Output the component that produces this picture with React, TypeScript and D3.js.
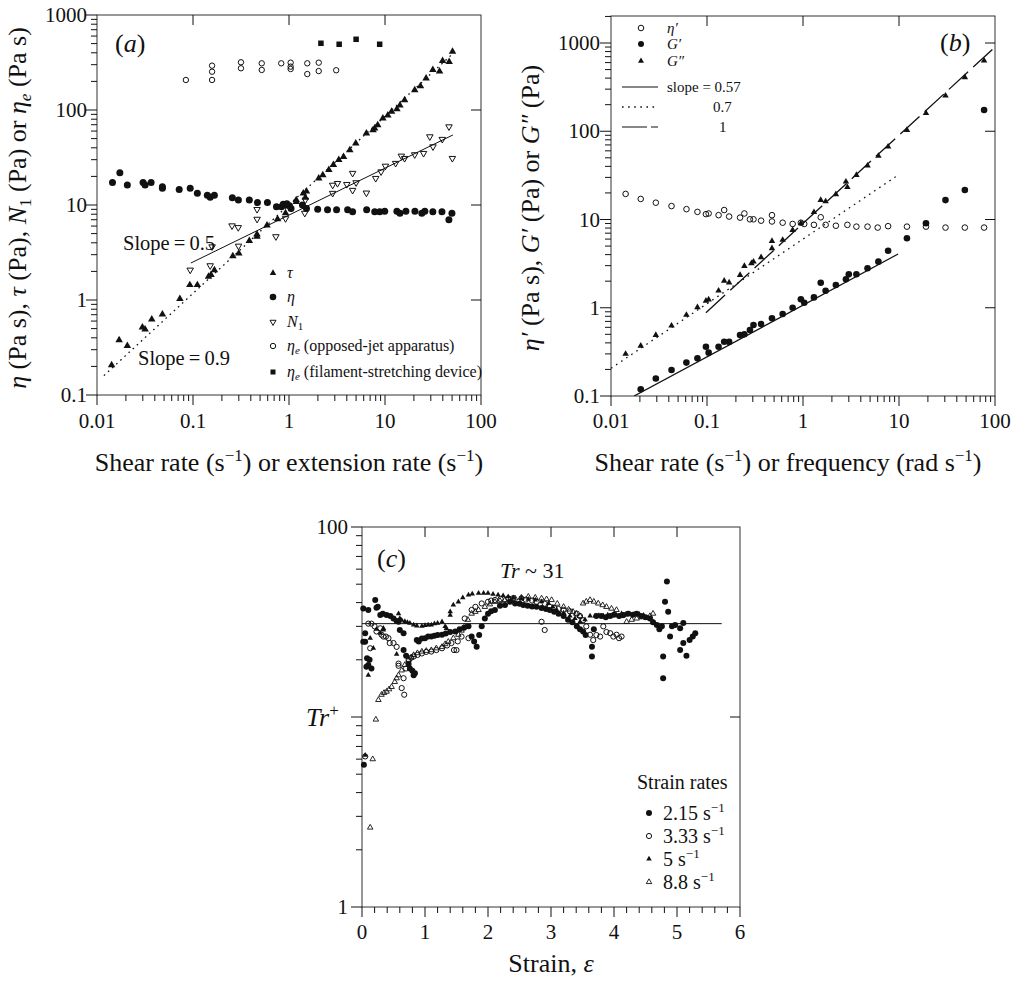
import React from "react";
import * as d3 from "d3";

const SERIF = "'Liberation Serif','Times New Roman','DejaVu Serif',serif";
const INK = "#111";

type P = [number, number];

// ---------------- Panel (a) data ----------------
const aTau: P[] = [
  [0.0142, 0.207], [0.017, 0.379], [0.0207, 0.33], [0.0297, 0.515], [0.0317, 0.49], [0.0372, 0.626],
  [0.048, 0.707], [0.073, 1.03], [0.0927, 1.44], [0.111, 1.44], [0.145, 1.76], [0.154, 1.84],
  [0.167, 2.07], [0.26, 2.9], [0.3, 3.1], [0.386, 4.2], [0.464, 4.64], [0.464, 4.9], [0.59, 6.1],
  [0.76, 7.1], [0.92, 8.2], [1.19, 10.8], [1.19, 11.3], [1.41, 13.3], [1.48, 12], [1.52, 13.9],
  [2.04, 19.1], [2.25, 20.7], [2.6, 23.4], [2.9, 26.4], [3.3, 29.8], [3.7, 32.2], [4.3, 37.9],
  [4.96, 44.7], [6.4, 56.9], [7.5, 61.5], [7.8, 64.3], [8.4, 69.5], [9.5, 81.8], [10.7, 88],
  [11.7, 96], [13.3, 102], [14.3, 112], [16, 127], [20.4, 162], [23.4, 179], [26.8, 216],
  [31.5, 265], [37, 256], [39.8, 330], [46.6, 322], [50.5, 411],
];
const aEta: P[] = [
  [0.0145, 17.2], [0.0173, 21.9], [0.0207, 16.2], [0.0302, 17.2], [0.0317, 16.2], [0.0366, 17.2],
  [0.048, 15.6], [0.048, 15], [0.0718, 14.6], [0.0935, 15], [0.111, 13.3], [0.141, 12.7],
  [0.151, 12.1], [0.167, 12.7], [0.257, 11.9], [0.297, 11.3], [0.386, 11.3], [0.469, 10.6],
  [0.596, 10.6], [0.74, 9.6], [0.835, 9.6], [0.87, 10.2], [0.918, 10], [0.95, 10.3], [1.01, 9.8],
  [1.05, 9.2], [1.38, 10], [1.52, 9.2], [1.99, 9.0], [2.52, 8.9], [3.13, 8.9], [4.08, 8.9],
  [4.6, 8.5], [6.44, 8.9], [7.81, 8.5], [8.81, 8.5], [9.93, 8.6], [13.3, 8.6], [14.3, 8.2],
  [16.5, 8.6], [20.5, 8.6], [24.2, 8.2], [26, 8.6], [31.5, 8.5], [39.2, 8.5], [46.3, 7.0], [49.8, 8.2],
];
const aN1: P[] = [
  [0.0935, 2.07], [0.151, 2.3], [0.158, 3.64], [0.255, 6.05], [0.296, 5.8], [0.298, 3.7],
  [0.465, 9.0], [0.465, 7.1], [0.73, 4.65], [0.92, 7.2], [1.46, 8.2], [1.48, 11.3], [2.85, 13.3],
  [2.85, 16.2], [3.2, 16.9], [4.0, 16.5], [4.6, 14.3], [4.6, 21.6], [5.0, 17.2], [6.4, 13.4],
  [8.0, 19.1], [9.1, 22.4], [10.1, 25.7], [12.9, 27.5], [14.8, 32.8], [16, 31], [20.4, 33.9],
  [25.2, 35], [29.3, 52.4], [31.6, 41.1], [39.5, 49.2], [46.4, 66.7], [50.3, 31],
];
const aEtaeJet: P[] = [
  [0.0843, 207], [0.158, 293], [0.158, 253], [0.158, 207], [0.316, 318], [0.316, 275],
  [0.52, 310], [0.52, 264], [0.83, 310], [1.04, 315], [1.04, 286], [1.04, 270], [1.55, 310],
  [1.55, 239], [2.04, 315], [2.04, 257], [3.1, 262],
];
const aEtaeFil: P[] = [[2.15, 504], [3.33, 492], [5.0, 555], [8.8, 492]];
const aSlope05Line: P[] = [[0.095, 2.45], [51, 54.6]];
const aSlope09Line: P[] = [[0.0118, 0.16], [52, 400]];

const aXTicks = [0.01, 0.1, 1, 10, 100];
const aXTickLabels = ["0.01", "0.1", "1", "10", "100"];
const aYTicks = [0.1, 1, 10, 100, 1000];
const aYTickLabels = ["0.1", "1", "10", "100", "1000"];

// ---------------- Panel (b) data ----------------
const bEtaPrime: P[] = [
  [0.0142, 19.5], [0.0204, 17.1], [0.0293, 15.5], [0.0427, 14.2], [0.0611, 13.1], [0.0795, 12.2],
  [0.0975, 11.5], [0.104, 11.7], [0.132, 11.2], [0.151, 12.8], [0.17, 10.8], [0.221, 10.5],
  [0.245, 11.7], [0.28, 10.05], [0.305, 10.05], [0.366, 9.7], [0.475, 9.5], [0.475, 11.2],
  [0.614, 9.2], [0.78, 8.9], [0.95, 9.2], [1.03, 8.9], [1.3, 8.7], [1.53, 10.6], [1.72, 8.7],
  [2.2, 8.5], [2.9, 8.7], [3.6, 8.3], [4.7, 8.3], [6.0, 8.1], [7.7, 8.4], [12.1, 8.3],
  [19.1, 8.3], [30.5, 8.1], [48.5, 8.1], [77, 8.1],
];
const bGPrime: P[] = [
  [0.0204, 0.119], [0.0293, 0.158], [0.0427, 0.197], [0.061, 0.239], [0.0795, 0.267],
  [0.0975, 0.362], [0.104, 0.31], [0.132, 0.362], [0.151, 0.412], [0.17, 0.41], [0.221, 0.49],
  [0.245, 0.5], [0.28, 0.56], [0.305, 0.638], [0.366, 0.654], [0.475, 0.76], [0.614, 0.85],
  [0.78, 1.0], [0.95, 1.25], [1.03, 1.14], [1.3, 1.31], [1.53, 1.92], [1.72, 1.56], [2.2, 1.81],
  [2.8, 2.1], [3.0, 2.39], [3.6, 2.4], [4.7, 2.8], [6.1, 3.33], [7.7, 4.43], [12.1, 6.12],
  [19.1, 9.06], [30.5, 16.6], [48.5, 21.6], [77, 174],
];
const bGDouble: P[] = [
  [0.0142, 0.3], [0.0204, 0.37], [0.0293, 0.49], [0.0427, 0.626], [0.061, 0.83], [0.0795, 1.01],
  [0.0975, 1.2], [0.104, 1.24], [0.132, 1.56], [0.151, 2.02], [0.17, 1.93], [0.221, 2.35],
  [0.245, 2.97], [0.29, 3.19], [0.305, 3.33], [0.366, 3.73], [0.475, 4.72], [0.475, 5.7],
  [0.614, 5.86], [0.78, 7.6], [0.95, 9.06], [1.3, 12.1], [1.53, 16.6], [1.72, 16.0], [2.2, 19.3],
  [2.9, 23.2], [2.8, 26.8], [3.6, 31.9], [4.7, 40.7], [6.1, 52.5], [7.7, 66.8], [12.1, 103],
  [19.1, 160], [30.5, 253], [48.5, 408], [77, 630],
];
const bSlope057Line: P[] = [[0.0174, 0.1], [9.8, 4.06]];
const bSlope07Line: P[] = [[0.01, 0.206], [9.8, 31.9]];
const bSlope1Line: P[] = [[0.0975, 0.88], [100, 900]];

const bXTicks = [0.01, 0.1, 1, 10, 100];
const bXTickLabels = ["0.01", "0.1", "1", "10", "100"];
const bYTicks = [0.1, 1, 10, 100, 1000];
const bYTickLabels = ["0.1", "1", "10", "100", "1000"];

// ---------------- Panel (c) data ----------------
const c215: P[] = [
  [0.02, 37.3], [0.02, 24.9], [0.03, 5.6], [0.05, 27.6], [0.05, 24.9], [0.07, 18.4], [0.08, 20.4],
  [0.1, 18.8], [0.12, 20], [0.15, 18], [0.1, 36.6], [0.21, 41.3], [0.23, 37.6], [0.25, 38],
  [0.29, 34.4], [0.33, 35], [0.39, 34.4], [0.45, 34], [0.5, 33], [0.55, 32], [0.58, 31.7],
  [0.6, 28.7], [0.66, 27.6], [0.66, 22.5], [0.7, 21], [0.74, 19], [0.76, 18], [0.8, 17.5],
  [0.82, 16.6], [0.84, 17], [0.87, 25.4], [0.9, 25], [0.95, 25.9], [1.0, 26], [1.05, 26.5],
  [1.1, 26.5], [1.15, 26.8], [1.2, 27], [1.27, 27.1], [1.33, 27.5], [1.4, 28], [1.48, 28.2],
  [1.55, 29], [1.62, 29.5], [1.69, 30], [1.74, 26.5], [1.78, 25], [1.82, 23.4], [1.86, 27],
  [1.9, 30], [1.95, 33], [2.0, 35], [2.05, 36], [2.11, 36.6], [2.19, 38.5], [2.27, 38.9],
  [2.35, 40.4], [2.43, 39.6], [2.5, 39.5], [2.56, 38.9], [2.63, 38.5], [2.7, 38.2], [2.77, 38],
  [2.85, 37.5], [2.92, 37], [2.98, 36.6], [3.05, 35.8], [3.12, 35], [3.2, 34], [3.27, 32.5],
  [3.34, 31.5], [3.41, 30], [3.46, 29], [3.51, 28.2], [3.55, 27], [3.65, 23.4], [3.65, 20.8],
  [3.68, 29], [3.72, 34], [3.8, 34], [3.87, 33.5], [3.94, 34], [4.0, 34.5], [4.08, 34],
  [4.15, 34.4], [4.22, 35], [4.3, 34.5], [4.36, 35], [4.43, 34], [4.5, 33.5], [4.57, 33],
  [4.62, 31.5], [4.68, 30.5], [4.72, 29], [4.76, 30], [4.78, 20.8], [4.78, 16], [4.81, 40.4],
  [4.84, 51.6], [4.86, 35.8], [4.89, 26.5], [4.92, 30], [4.97, 30.5], [5.05, 29.3], [5.05, 22.5],
  [5.1, 31.2], [5.1, 24.5], [5.15, 21], [5.2, 25.4], [5.25, 26.5], [5.29, 27.6],
];
const c333: P[] = [
  [0.05, 6.2], [0.1, 31], [0.13, 23], [0.15, 31], [0.2, 30], [0.23, 28.2], [0.29, 29.3],
  [0.31, 27.1], [0.34, 26.5], [0.38, 26.5], [0.42, 26], [0.44, 24.5], [0.5, 24.5], [0.55, 23.4],
  [0.58, 19.1], [0.58, 18.6], [0.63, 14.2], [0.66, 16], [0.67, 13.1], [0.7, 18], [0.74, 20],
  [0.78, 20.5], [0.82, 20.8], [0.88, 21.2], [0.95, 21.6], [1.02, 22], [1.1, 22.1], [1.18, 22.5],
  [1.27, 23], [1.35, 23.8], [1.42, 24.5], [1.46, 22.5], [1.5, 22.5], [1.52, 25], [1.58, 26.5],
  [1.63, 33], [1.69, 26], [1.74, 36.6], [1.8, 38], [1.9, 39.6], [2.0, 40.4], [2.05, 41],
  [2.11, 41.3], [2.2, 41.8], [2.32, 42.1], [2.4, 42.2], [2.53, 42.1], [2.6, 41.5], [2.7, 41],
  [2.77, 40.4], [2.85, 31.7], [2.9, 28.7], [2.9, 39.5], [2.98, 38], [3.05, 37.5], [3.12, 37],
  [3.2, 36.6], [3.3, 36], [3.41, 35], [3.46, 34], [3.51, 32.3], [3.56, 30], [3.62, 27.1],
  [3.67, 25.4], [3.72, 27], [3.78, 26.5], [3.83, 30], [3.88, 28], [3.94, 27.6], [3.99, 26.5],
  [4.04, 27.1], [4.08, 26], [4.12, 26.5],
];
const c5: P[] = [
  [0.05, 6.3], [0.1, 16.6], [0.13, 26], [0.18, 23], [0.23, 29], [0.29, 27.6], [0.34, 29.3],
  [0.34, 28.7], [0.55, 21.4], [0.58, 35], [0.6, 33], [0.63, 32.3], [0.68, 31.8], [0.72, 31.5],
  [0.76, 31.2], [0.82, 30.5], [0.87, 30.2], [0.95, 30.1], [1.0, 30.3], [1.05, 30.5], [1.1, 30.5],
  [1.15, 31], [1.2, 31.2], [1.27, 31.7], [1.32, 30], [1.34, 29.3], [1.4, 34.4], [1.4, 35.8],
  [1.45, 38.9], [1.53, 40.4], [1.6, 42.5], [1.69, 43.9], [1.75, 44.5], [1.85, 44.8], [1.93, 44.8],
  [2.0, 44.8], [2.08, 44.3], [2.16, 43.9], [2.24, 43.5], [2.32, 43], [2.4, 42.5], [2.53, 42.1],
  [2.64, 41.7], [2.75, 41.3], [2.85, 40.5], [2.96, 39.6], [3.03, 38], [3.09, 36.6], [3.2, 35.3],
  [3.3, 34], [3.38, 33], [3.46, 31.7], [3.54, 32.5], [3.62, 34], [3.7, 34], [3.76, 34.2],
  [3.83, 34], [3.9, 34.5], [3.97, 34.2], [4.04, 34.4], [4.12, 35], [4.18, 34.6], [4.25, 35],
  [4.32, 34.8], [4.4, 34.8], [4.47, 34.4], [4.55, 33], [4.62, 31.7],
];
const c88: P[] = [
  [0.13, 2.62], [0.17, 6.0], [0.22, 9.7], [0.26, 12.3], [0.31, 13.1], [0.35, 13.4], [0.39, 13.6],
  [0.43, 14], [0.47, 14.4], [0.52, 15.3], [0.55, 16], [0.58, 16.6], [0.63, 17.6], [0.68, 18.8],
  [0.74, 20], [0.78, 20.6], [0.82, 21.2], [0.88, 21.7], [0.95, 22.1], [1.02, 22.3], [1.1, 22.5],
  [1.18, 23], [1.27, 23.4], [1.32, 24.2], [1.37, 24.9], [1.45, 26], [1.53, 27.1], [1.58, 28.5],
  [1.63, 30], [1.68, 32.5], [1.74, 35], [1.8, 35.8], [1.85, 36.6], [1.95, 38], [2.03, 39.2],
  [2.11, 40.4], [2.19, 40.9], [2.27, 41.3], [2.35, 41.7], [2.43, 42.1], [2.53, 42.5], [2.64, 43],
  [2.75, 42.5], [2.85, 42.1], [2.93, 41.7], [3.01, 41.3], [3.1, 39.5], [3.2, 38], [3.28, 36.8],
  [3.35, 35.8], [3.4, 35], [3.46, 34], [3.51, 39.6], [3.56, 40.5], [3.62, 41.3], [3.68, 40.5],
  [3.75, 39.6], [3.82, 38.8], [3.88, 38], [3.96, 37.2], [4.04, 36.6], [4.12, 34], [4.2, 31.7],
  [4.28, 32.5], [4.36, 33], [4.45, 33.5], [4.57, 34], [4.62, 35],
];
const cTrLine: P[] = [[0, 31], [5.71, 31]];
const cXTicks = [0, 1, 2, 3, 4, 5, 6];
const cXTickLabels = ["0", "1", "2", "3", "4", "5", "6"];
const cYTicks = [1, 10, 100];
const cYTickLabels = ["1", "", "100"];
const cLegendLabels = ["2.15", "3.33", "5", "8.8"];

// ---------------- helpers ----------------
function triPath(x: number, y: number, s: number, up: boolean) {
  const h = s * 0.866;
  if (up) return `M${x},${y - (2 * h) / 3}L${x + s / 2},${y + h / 3}L${x - s / 2},${y + h / 3}Z`;
  return `M${x},${y + (2 * h) / 3}L${x + s / 2},${y - h / 3}L${x - s / 2},${y - h / 3}Z`;
}

type MK = "fc" | "oc" | "ftu" | "otu" | "otd" | "fsq";
function Marker({ kind, x, y, s }: { kind: MK; x: number; y: number; s: number }) {
  switch (kind) {
    case "fc":
      return <circle cx={x} cy={y} r={s} fill={INK} />;
    case "oc":
      return <circle cx={x} cy={y} r={s} fill="none" stroke={INK} strokeWidth={1} />;
    case "ftu":
      return <path d={triPath(x, y, s, true)} fill={INK} />;
    case "otu":
      return <path d={triPath(x, y, s, true)} fill="none" stroke={INK} strokeWidth={0.9} />;
    case "otd":
      return <path d={triPath(x, y, s, false)} fill="none" stroke={INK} strokeWidth={1} />;
    case "fsq":
      return <rect x={x - s / 2} y={y - s / 2} width={s} height={s} fill={INK} />;
  }
  return null;
}

function Series({ data, x, y, kind, s }: { data: P[]; x: any; y: any; kind: MK; s: number }) {
  return (
    <g>
      {data.map((d, i) => (
        <Marker key={i} kind={kind} x={x(d[0])} y={y(d[1])} s={s} />
      ))}
    </g>
  );
}

function Seg({ data, x, y, dash, w = 1 }: { data: P[]; x: any; y: any; dash?: string; w?: number }) {
  const line = d3.line<P>().x((d) => x(d[0])).y((d) => y(d[1]));
  return <path d={line(data) || ""} fill="none" stroke={INK} strokeWidth={w} strokeDasharray={dash} />;
}

function Frame(props: {
  x: any; y: any; xMajor: number[]; xMinor: number[]; xLabels: string[];
  yMajor: number[]; yMinor: number[]; yLabels: string[]; top: number[]; right: number[];
  xLabelBase: number; yLabelEnd: number; fs: number;
}) {
  const { x, y, xMajor, xMinor, xLabels, yMajor, yMinor, yLabels, top, right, xLabelBase, yLabelEnd, fs } = props;
  const [x0, x1] = x.range();
  const [y0, y1] = y.range();
  return (
    <g stroke={INK} strokeWidth={1}>
      <rect x={x0} y={y1} width={x1 - x0} height={y0 - y1} fill="none" stroke="#333" />
      {xMinor.map((t, i) => (
        <line key={"xm" + i} x1={x(t)} x2={x(t)} y1={y0} y2={y0 + 6} />
      ))}
      {xMajor.map((t, i) => (
        <line key={"xM" + i} x1={x(t)} x2={x(t)} y1={y0} y2={y0 + 10} />
      ))}
      {yMinor.map((t, i) => (
        <line key={"ym" + i} x1={x0 - 6} x2={x0} y1={y(t)} y2={y(t)} />
      ))}
      {yMajor.map((t, i) => (
        <line key={"yM" + i} x1={x0 - 11} x2={x0} y1={y(t)} y2={y(t)} />
      ))}
      {top.map((t, i) => (
        <line key={"t" + i} x1={x(t)} x2={x(t)} y1={y1} y2={y1 + 10} />
      ))}
      {right.map((t, i) => (
        <line key={"r" + i} x1={x1 - 10} x2={x1} y1={y(t)} y2={y(t)} />
      ))}
      <g stroke="none" fill={INK} fontFamily={SERIF} fontSize={fs}>
        {xMajor.map((t, i) => (
          <text key={"xl" + i} x={x(t)} y={xLabelBase} textAnchor="middle">
            {xLabels[i]}
          </text>
        ))}
        {yMajor.map((t, i) =>
          yLabels[i] ? (
            <text key={"yl" + i} x={yLabelEnd} y={y(t) + fs * 0.34} textAnchor="end">
              {yLabels[i]}
            </text>
          ) : null
        )}
      </g>
    </g>
  );
}

const pow10 = (v: number) => Math.abs(Math.log10(v) - Math.round(Math.log10(v))) < 1e-6;

export default function App() {
  const ax = d3.scaleLog().domain([0.01, 100]).range([97, 481]);
  const ay = d3.scaleLog().domain([0.1, 1000]).range([395, 15]);
  const bx = d3.scaleLog().domain([0.01, 100]).range([611, 995]);
  const by = d3.scaleLog().domain([0.1, 2023]).range([396, 16]);
  const cx = d3.scaleLinear().domain([0, 6]).range([362, 740]);
  const cy = d3.scaleLog().domain([1, 100]).range([907, 527]);

  const minors = (sc: any) => sc.ticks().filter((t: number) => !pow10(t));
  const cxMinor = d3.range(0, 30).map((i) => i * 0.2).filter((v) => Math.abs(v - Math.round(v)) > 1e-6);

  const tickFs = 21;
  const titleFs = 26;
  const supFs = 17;

  return (
    <svg width={1016} height={981} style={{ position: "absolute", left: 0, top: 0, background: "#fff" }}
      fontFamily={SERIF}>
      <rect x={0} y={0} width={1016} height={981} fill="#fff" />
      {/* ================= Panel (a) ================= */}
      <Frame x={ax} y={ay} xMajor={aXTicks} xMinor={minors(ax)} xLabels={aXTickLabels}
        yMajor={aYTicks} yMinor={minors(ay)} yLabels={aYTickLabels}
        top={[0.1, 1, 10]} right={[1, 10, 100]} xLabelBase={428} yLabelEnd={87} fs={tickFs} />
      <Seg data={aSlope09Line} x={ax} y={ay} dash="1.6,4" w={1.3} />
      <Seg data={aSlope05Line} x={ax} y={ay} />
      <Series data={aEtaeJet} x={ax} y={ay} kind="oc" s={2.7} />
      <Series data={aEtaeFil} x={ax} y={ay} kind="fsq" s={5.5} />
      <Series data={aEta} x={ax} y={ay} kind="fc" s={3.5} />
      <Series data={aTau} x={ax} y={ay} kind="ftu" s={7.5} />
      <Series data={aN1} x={ax} y={ay} kind="otd" s={6.5} />
      <text x={115} y={52} fontSize={titleFs} fill={INK}>(<tspan fontStyle="italic">a</tspan>)</text>
      <text x={123} y={250} fontSize={20.5} fill={INK}>Slope{"\u2009=\u2009"}0.5</text>
      <text x={138} y={365} fontSize={20.5} fill={INK}>Slope{"\u2009=\u2009"}0.9</text>
      <g fontSize={16} fill={INK}>
        <Marker kind="ftu" x={273} y={273} s={6.5} />
        <text x={287} y={278} fontStyle="italic">τ</text>
        <Marker kind="fc" x={273} y={297} s={3.3} />
        <text x={287} y={302} fontStyle="italic">η</text>
        <Marker kind="otd" x={273} y={322} s={6} />
        <text x={287} y={327}><tspan fontStyle="italic">N</tspan><tspan fontSize={11} dy={3}>1</tspan></text>
        <Marker kind="oc" x={273} y={346} s={2.7} />
        <text x={287} y={351}><tspan fontStyle="italic">η</tspan><tspan fontStyle="italic" fontSize={11} dy={3}>e</tspan><tspan dy={-3}> (opposed-jet apparatus)</tspan></text>
        <Marker kind="fsq" x={273} y={372} s={5} />
        <text x={287} y={377}><tspan fontStyle="italic">η</tspan><tspan fontStyle="italic" fontSize={11} dy={3}>e</tspan><tspan dy={-3}> (filament-stretching device)</tspan></text>
      </g>
      <text transform="translate(26,208) rotate(-90)" textAnchor="middle" fontSize={titleFs} fill={INK}>
        <tspan fontStyle="italic">η</tspan> (Pa s), <tspan fontStyle="italic">τ</tspan> (Pa), <tspan fontStyle="italic">N</tspan>
        <tspan fontSize={supFs} dy={5}>1</tspan>
        <tspan dy={-5}> (Pa) or </tspan>
        <tspan fontStyle="italic">η</tspan>
        <tspan fontStyle="italic" fontSize={supFs} dy={5}>e</tspan>
        <tspan dy={-5}> (Pa s)</tspan>
      </text>
      <text x={289} y={471} textAnchor="middle" fontSize={titleFs} fill={INK}>
        Shear rate (s<tspan fontSize={supFs} dy={-10}>−1</tspan><tspan dy={10}>) or extension rate (s</tspan>
        <tspan fontSize={supFs} dy={-10}>−1</tspan><tspan dy={10}>)</tspan>
      </text>

      {/* ================= Panel (b) ================= */}
      <defs>
        <clipPath id="clipB"><rect x={611} y={16} width={384} height={380} /></clipPath>
      </defs>
      <Frame x={bx} y={by} xMajor={bXTicks} xMinor={minors(bx)} xLabels={bXTickLabels}
        yMajor={bYTicks} yMinor={minors(by)} yLabels={bYTickLabels}
        top={[0.1, 1, 10]} right={[1, 10, 100, 1000]} xLabelBase={428} yLabelEnd={600} fs={tickFs} />
      <g clipPath="url(#clipB)">
        <Seg data={bSlope07Line} x={bx} y={by} dash="1.6,4.5" w={1.3} />
        <Seg data={bSlope1Line} x={bx} y={by} dash="26,7" w={1.3} />
        <Seg data={bSlope057Line} x={bx} y={by} w={1.3} />
        <Series data={bEtaPrime} x={bx} y={by} kind="oc" s={2.8} />
        <Series data={bGPrime} x={bx} y={by} kind="fc" s={3.3} />
        <Series data={bGDouble} x={bx} y={by} kind="ftu" s={6.5} />
      </g>
      <text x={940} y={51} fontSize={titleFs} fill={INK}>(<tspan fontStyle="italic">b</tspan>)</text>
      <g fontSize={15} fill={INK}>
        <Marker kind="oc" x={641} y={28} s={2.8} />
        <text x={667} y={33} fontStyle="italic">η′</text>
        <Marker kind="fc" x={641} y={44} s={3} />
        <text x={667} y={49} fontStyle="italic">G′</text>
        <Marker kind="ftu" x={641} y={61} s={6} />
        <text x={667} y={66} fontStyle="italic">G″</text>
        <line x1={622} x2={658} y1={87} y2={87} stroke={INK} strokeWidth={1.2} />
        <text x={667} y={92}>slope = 0.57</text>
        <line x1={622} x2={658} y1={107} y2={107} stroke={INK} strokeWidth={1.3} strokeDasharray="1.6,4.5" />
        <text x={713} y={112}>0.7</text>
        <line x1={622} x2={658} y1={127} y2={127} stroke={INK} strokeWidth={1.2} strokeDasharray="25,4" />
        <text x={719} y={132}>1</text>
      </g>
      <text transform="translate(539,208) rotate(-90)" textAnchor="middle" fontSize={titleFs} fill={INK}>
        <tspan fontStyle="italic">η′</tspan> (Pa s), <tspan fontStyle="italic">G′</tspan> (Pa) or <tspan fontStyle="italic">G″</tspan> (Pa)
      </text>
      <text x={788} y={471} textAnchor="middle" fontSize={titleFs} fill={INK}>
        Shear rate (s<tspan fontSize={supFs} dy={-10}>−1</tspan><tspan dy={10}>) or frequency (rad s</tspan>
        <tspan fontSize={supFs} dy={-10}>−1</tspan><tspan dy={10}>)</tspan>
      </text>

      {/* ================= Panel (c) ================= */}
      <Frame x={cx} y={cy} xMajor={cXTicks} xMinor={cxMinor} xLabels={cXTickLabels}
        yMajor={cYTicks} yMinor={minors(cy)} yLabels={cYTickLabels}
        top={[1, 2, 3, 4, 5]} right={[10]} xLabelBase={939} yLabelEnd={348} fs={tickFs} />
      <Seg data={cTrLine} x={cx} y={cy} w={1} />
      <Series data={c333} x={cx} y={cy} kind="oc" s={2.6} />
      <Series data={c88} x={cx} y={cy} kind="otu" s={5.5} />
      <Series data={c5} x={cx} y={cy} kind="ftu" s={5.5} />
      <Series data={c215} x={cx} y={cy} kind="fc" s={3} />
      <text x={377} y={567} fontSize={titleFs} fill={INK}>(<tspan fontStyle="italic">c</tspan>)</text>
      <text x={500} y={578} fontSize={22} fill={INK}><tspan fontStyle="italic">Tr</tspan> ~ 31</text>
      <text x={306} y={726} fontSize={titleFs} fill={INK}>
        <tspan fontStyle="italic">Tr</tspan><tspan fontSize={supFs} dy={-10}>+</tspan>
      </text>
      <text x={551} y={972} textAnchor="middle" fontSize={titleFs} fill={INK}>
        Strain, <tspan fontStyle="italic">ε</tspan>
      </text>
      <g fontSize={20} fill={INK}>
        <text x={637} y={789}>Strain rates</text>
        {(["fc", "oc", "ftu", "otu"] as MK[]).map((k, i) => (
          <g key={k}>
            <Marker kind={k} x={649} y={813 + i * 23} s={k === "fc" ? 3 : k === "oc" ? 2.6 : 5.5} />
            <text x={663} y={820 + i * 23}>
              {cLegendLabels[i]} s<tspan fontSize={13} dy={-8}>−1</tspan>
            </text>
          </g>
        ))}
      </g>
    </svg>
  );
}
